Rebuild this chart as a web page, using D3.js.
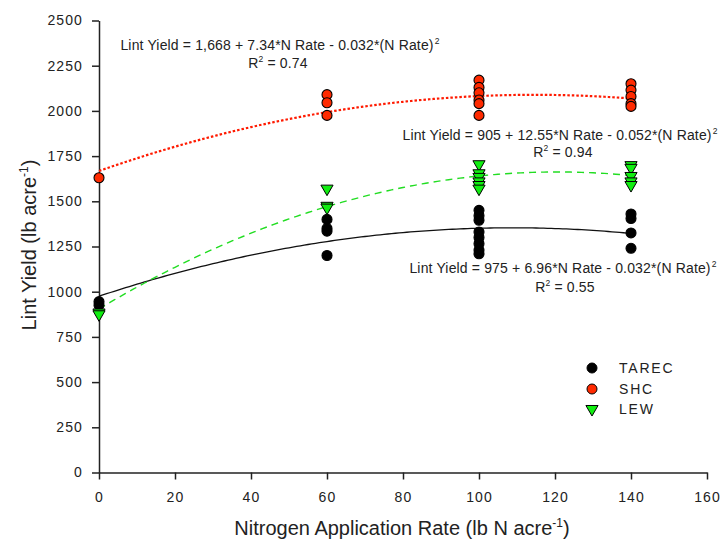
<!DOCTYPE html>
<html>
<head>
<meta charset="utf-8">
<script src="https://cdn.jsdelivr.net/npm/d3@7/dist/d3.min.js"></script>
<style>
  html, body { margin: 0; padding: 0; background: #fff; }
  svg { display: block; font-family: "Liberation Sans", Arial, sans-serif; }
</style>
</head>
<body>
<svg id="chart" width="720" height="539"></svg>
<script>
// ---- data ----
const xTicks = [0, 20, 40, 60, 80, 100, 120, 140, 160];
const yTicks = [0, 250, 500, 750, 1000, 1250, 1500, 1750, 2000, 2250, 2500];

const tarecX = [0, 0, 60, 60, 60, 60, 100, 100, 100, 100, 100, 100, 100, 100, 140, 140, 140, 140];
const tarecY = [945, 925, 1400, 1350, 1335, 1200, 1450, 1420, 1395, 1330, 1300, 1265, 1230, 1210, 1430, 1405, 1325, 1240];

const shcX = [0, 60, 60, 60, 100, 100, 100, 100, 100, 100, 140, 140, 140, 140, 140];
const shcY = [1630, 2090, 2045, 1975, 2170, 2130, 2100, 2060, 2040, 1975, 2150, 2115, 2080, 2040, 2025];

const lewX = [0, 0, 60, 60, 60, 100, 100, 100, 100, 100, 100, 140, 140, 140, 140, 140];
const lewY = [885, 875, 1570, 1475, 1465, 1705, 1655, 1635, 1610, 1590, 1570, 1700, 1685, 1640, 1610, 1590];

// regression coefficients [a, b, c]: yield = a + b*N - c*N^2
const tarecFit = [975, 6.96, 0.032];
const shcFit = [1668, 7.34, 0.032];
const lewFit = [905, 12.55, 0.052];
const fitRange = [0, 140];

const eqTexts = [
  "Lint Yield = 1,668 + 7.34*N Rate - 0.032*(N Rate)",
  "Lint Yield = 905 + 12.55*N Rate - 0.052*(N Rate)",
  "Lint Yield = 975 + 6.96*N Rate - 0.032*(N Rate)"
];
const r2Texts = ["0.74", "0.94", "0.55"];
const legendNames = ["TAREC", "SHC", "LEW"];

// ---- layout ----
const svg = d3.select("#chart");
const x = d3.scaleLinear().domain([0, 160]).range([99, 707]);
const y = d3.scaleLinear().domain([0, 2500]).range([472.5, 20.5]);

const black = "#000000", red = "#ff2a00", green = "#11ee11";

// axes
const fmt = d3.format("d");
const xAxis = svg.append("g").attr("transform", `translate(0,${y(0)})`)
  .call(d3.axisBottom(x).tickValues(xTicks).tickFormat(fmt).tickSize(7).tickSizeOuter(0).tickPadding(10));
const yAxis = svg.append("g").attr("transform", `translate(${x(0)},0)`)
  .call(d3.axisLeft(y).tickValues(yTicks).tickFormat(fmt).tickSize(7).tickSizeOuter(0).tickPadding(9));
[xAxis, yAxis].forEach(a => {
  a.select(".domain").attr("stroke", "#222").attr("stroke-width", 1.5);
  a.selectAll(".tick line").attr("stroke", "#222").attr("stroke-width", 1.5);
  a.selectAll(".tick text").attr("fill", "#222").attr("font-size", 14)
    .attr("letter-spacing", 1.1).attr("font-family", "Liberation Sans, Arial, sans-serif");
});
xAxis.selectAll(".tick text").attr("dy", "0.9em");

// fit curves
function fitLine(c) {
  const ns = d3.range(fitRange[0], fitRange[1] + 0.5, 1);
  return d3.line().x(n => x(n)).y(n => y(c[0] + c[1] * n - c[2] * n * n))(ns);
}
svg.append("path").attr("d", fitLine(tarecFit)).attr("fill", "none")
  .attr("stroke", "#111").attr("stroke-width", 1.3);
svg.append("path").attr("d", fitLine(lewFit)).attr("fill", "none")
  .attr("stroke", "#22dd22").attr("stroke-width", 1.4).attr("stroke-dasharray", "7,5");
svg.append("path").attr("d", fitLine(shcFit)).attr("fill", "none")
  .attr("stroke", "#ff1a00").attr("stroke-width", 2.2).attr("stroke-dasharray", "2.5,2");

// markers
const tri = d3.symbol().type(d3.symbolTriangle).size(64);
function drawCircles(xs, ys, fill) {
  svg.append("g").selectAll("circle").data(xs).join("circle")
    .attr("cx", (d) => x(d)).attr("cy", (d, i) => y(ys[i])).attr("r", 5)
    .attr("fill", fill).attr("stroke", "#000").attr("stroke-width", 1.1);
}
drawCircles(tarecX, tarecY, black);
drawCircles(shcX, shcY, red);
svg.append("g").selectAll("path").data(lewX).join("path")
  .attr("d", tri)
  .attr("transform", (d, i) => `translate(${x(d)},${y(lewY[i])}) rotate(180)`)
  .attr("fill", green).attr("stroke", "#000").attr("stroke-width", 1);

// equations
const eqPos = [[280, 50, 278, 68], [560, 140, 563, 157], [563, 273, 565, 292]];
eqTexts.forEach((t, i) => {
  const [ex, ey, rx, ry] = eqPos[i];
  const tx = svg.append("text").attr("x", ex).attr("y", ey).attr("text-anchor", "middle")
    .attr("font-size", 14).attr("letter-spacing", 0.15).attr("fill", "#222");
  tx.append("tspan").text(t);
  tx.append("tspan").text("2").attr("font-size", 8.5).attr("dy", -6).attr("dx", 1);
  const r = svg.append("text").attr("x", rx).attr("y", ry).attr("text-anchor", "middle")
    .attr("font-size", 14).attr("letter-spacing", 0.15).attr("fill", "#222");
  r.append("tspan").text("R");
  r.append("tspan").text("2").attr("font-size", 8.5).attr("dy", -6);
  r.append("tspan").text(" = " + r2Texts[i]).attr("dy", 6);
});

// axis titles
const yt = svg.append("text").attr("transform", `translate(36,245) rotate(-90)`)
  .attr("text-anchor", "middle").attr("font-size", 20).attr("fill", "#222");
yt.append("tspan").text("Lint Yield (lb acre");
yt.append("tspan").text("-1").attr("font-size", 12).attr("dy", -8);
yt.append("tspan").text(")").attr("dy", 8);

const xt = svg.append("text").attr("x", 402).attr("y", 535)
  .attr("text-anchor", "middle").attr("font-size", 20).attr("fill", "#222");
xt.append("tspan").text("Nitrogen Application Rate (lb N acre");
xt.append("tspan").text("-1").attr("font-size", 12).attr("dy", -8);
xt.append("tspan").text(")").attr("dy", 8);

// legend
const lg = svg.append("g");
const legY = [368, 389, 409];
lg.append("circle").attr("cx", 592).attr("cy", legY[0]).attr("r", 5).attr("fill", black).attr("stroke", "#000");
lg.append("circle").attr("cx", 592).attr("cy", legY[1]).attr("r", 5).attr("fill", red).attr("stroke", "#000");
lg.append("path").attr("d", tri).attr("transform", `translate(592,${legY[2]}) rotate(180)`)
  .attr("fill", green).attr("stroke", "#000");
legendNames.forEach((n, i) => {
  lg.append("text").attr("x", 619).attr("y", legY[i] + 5).attr("font-size", 14)
    .attr("letter-spacing", 1.8).attr("fill", "#222").text(n);
});
</script>
</body>
</html>
